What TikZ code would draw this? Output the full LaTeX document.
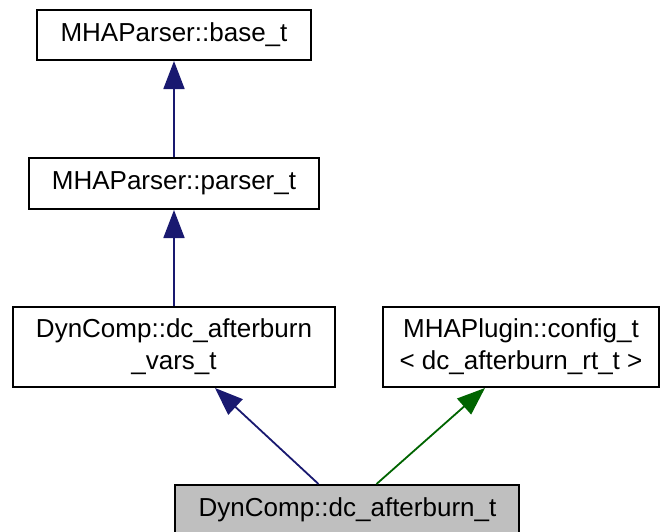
\documentclass[tikz,border=0pt]{standalone}
\usepackage{fontspec}
\setmainfont{Liberation Sans}
\usetikzlibrary{positioning,calc,arrows.meta}
\definecolor{edgeblue}{HTML}{191970}
\definecolor{edgegreen}{HTML}{006400}
\definecolor{focusgray}{HTML}{BFBFBF}

\begin{document}
\begin{tikzpicture}[
        node distance=48pt,
        class/.style={
            rectangle,
            draw=black,
            line width=1pt,
            inner xsep=2pt,
            inner ysep=0pt,
            align=center,
            font=\fontsize{13}{16}\selectfont
        },
        inherit/.style={
            -{Triangle[length=14pt,width=10.5pt]},
            line width=0.9pt
        }
    ]

        \useasboundingbox (-87pt,17.5pt) rectangle (243.5pt,-248.5pt);

        \node[class, minimum width=137pt, minimum height=25pt] (base) at (0,0)
            {MHAParser::base\_t};

        \node[class, minimum width=145pt, minimum height=25.5pt, below=of base] (parser)
            {MHAParser::parser\_t};

        \node[class, minimum width=161pt, minimum height=40pt, below=of parser] (vars)
            {DynComp::dc\_afterburn\\\_vars\_t};

        \node[class, minimum width=138pt, minimum height=40pt, right=23pt of vars] (config)
            {MHAPlugin::config\_t\\< dc\_afterburn\_rt\_t >};

        \node[class, fill=focusgray, minimum width=172pt, minimum height=25pt,
            below=of $(vars.south)!0.5!(config.south)$] (afterburn)
            {DynComp::dc\_afterburn\_t};

        \draw[inherit, edgeblue] (parser) -- (base);

        \draw[inherit, edgeblue] (vars) -- (parser);

        \draw[inherit, edgeblue] ([xshift=-14.5pt]afterburn.north) -- ([xshift=20.5pt]vars.south);

        \draw[inherit, edgegreen] ([xshift=14.5pt]afterburn.north) -- ([xshift=-18pt]config.south);

    \end{tikzpicture}
\end{document}
